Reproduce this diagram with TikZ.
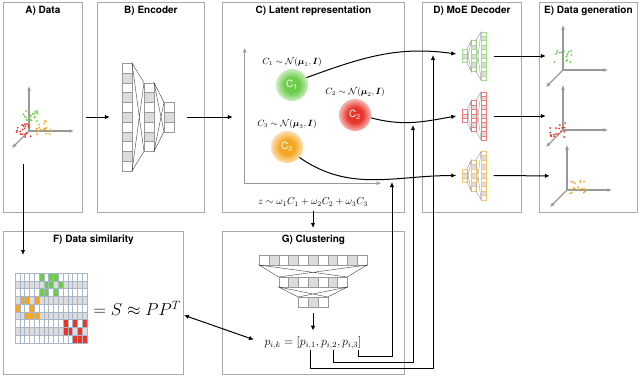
\documentclass[tikz,border=0pt]{standalone}
\usepackage{amsmath}
\usepackage{fontspec}
\setsansfont{TeX Gyre Heros}
\usetikzlibrary{arrows.meta,positioning}
\definecolor{cgreen}{HTML}{6DCC4A}
\definecolor{cred}{HTML}{E8352A}
\definecolor{corange}{HTML}{F5A623}
\definecolor{framegray}{HTML}{AAAAAA}
\definecolor{axisgray}{HTML}{999999}
\definecolor{cellgray}{HTML}{DCDCDC}
\definecolor{gridblue}{HTML}{A8B6CA}
\colorlet{ballc}{cgreen}
\pgfdeclareradialshading[ballc]{softball}{\pgfpointorigin}{%
  color(0bp)=(ballc); color(12bp)=(ballc); color(25bp)=(ballc!35); color(50bp)=(ballc!35)}

\newcommand{\mlpnet}[2]{%
  \foreach \lx/\nc in {-26/11,-4/7,16/3}{
    \foreach \i in {1,...,\nc}{
      \ifodd\i\def\cfill{white}\else\def\cfill{cellgray}\fi
      \draw[draw=#1, fill=\cfill, line width=0.4pt] (\lx,{(\i-1-\nc/2)*9.8}) rectangle ++(10,9.8);
    }
  }
  \foreach \xa/\ha/\xb/\hb in {-16/53.9/-4/34.3, 6/34.3/16/14.7}
    \draw[#2, line width=0.4pt] (\xa,-\ha) -- (\xb,-\hb) -- (\xa,\ha) -- (\xb,\hb) -- cycle;
}
\newcommand{\dotcloud}[6]{%
  \foreach \k in {1,...,#6}{\fill[#1] ({#2+#4*rand},{#3+#5*rand}) circle (1);}
}
\tikzset{triaxes/.pic={
  \node[inner sep=0pt, minimum size=62] (-area) at (14,-14) {};
  \draw[axis] (0,0) -- (0,-45);
  \draw[axis] (0,0) -- (45,0);
  \draw[axis] (0,0) -- (-17,17);
}}

\begin{document}
\begin{tikzpicture}[x=1pt, y=-1pt,
  panel/.style={draw=framegray, line width=0.8pt, inner sep=0pt, anchor=north west},
  ttl/.style={font=\sffamily\bfseries, inner sep=1pt},
  arr/.style={-{Latex[length=5pt,width=4.5pt]}, line width=1pt},
  darr/.style={{Latex[length=5pt,width=4.5pt]}-{Latex[length=5pt,width=4.5pt]}, line width=1pt},
  axis/.style={draw=axisgray, line width=1.1pt, -{Latex[length=4.5pt,width=4pt]}},
  blob/.style={circle, minimum size=32pt, inner sep=0pt, text=white, font=\sffamily},
  ball/.style={/utils/exec=\colorlet{ballc}{#1}, shading=softball},
  dist/.style={font=\small, inner sep=1pt},
  cellgrid/.style={draw=gridblue, line width=0.4pt},
  hole/.style={inner sep=0pt}
]
  \useasboundingbox (0,0) rectangle (640,376);
  \pgfmathsetseed{7}

  \node[panel, minimum width=79, minimum height=210] (A) at (3,2) {};
  \node[panel, minimum width=107, minimum height=210] (B) at (97,2) {};
  \node[panel, minimum width=182, minimum height=210] (C) at (222,2) {};
  \node[panel, minimum width=99, minimum height=210] (D) at (422,2) {};
  \node[panel, minimum width=98, minimum height=210] (E) at (539,2) {};
  \node[panel, minimum width=180, minimum height=143] (F) at (3,231) {};
  \node[panel, minimum width=182, minimum height=143] (G) at (222,231) {};
  \node[ttl, below=3pt of A.north] {A) Data};
  \node[ttl, below=3pt of B.north] {B) Encoder};
  \node[ttl, below=3pt of C.north] {C) Latent representation};
  \node[ttl, below=3pt of D.north] {D) MoE Decoder};
  \node[ttl, below=3pt of E.north] {E) Data generation};
  \node[ttl, below=3pt of F.north] {F) Data similarity};
  \node[ttl, below=3pt of G.north] {G) Clustering};

  % data and generated data
  \pic (pA) at (29,131) {triaxes};
  \dotcloud{cgreen}{31}{116}{8}{5}{20}
  \dotcloud{cred}{24}{130}{8}{7}{20}
  \dotcloud{corange}{43}{128}{8}{7}{20}
  \pic (pE1) at (563,70) {triaxes};
  \pic (pE2) at (563,130) {triaxes};
  \pic (pE3) at (567,190) {triaxes};
  \dotcloud{cgreen}{563}{56}{9}{6}{18}
  \dotcloud{cred}{558}{130}{9}{7}{18}
  \dotcloud{corange}{578}{187}{9}{7}{18}

  % networks
  \node[hole, minimum width=52, minimum height=108] (enc) at (148,117) {};
  \begin{scope}[shift={(enc.center)}] \mlpnet{axisgray}{black!75} \end{scope}
  \foreach \d/\y/\clr in {1/56/cgreen, 2/116/cred, 3/175.5/corange}{
    \node[hole, minimum width=25, minimum height=49] (dec\d) at (474,\y) {};
    \begin{scope}[shift={(dec\d.center)}, xscale=-0.45, yscale=0.45] \mlpnet{\clr!65}{axisgray} \end{scope}
  }
  \node[hole, minimum width=108, minimum height=53] (clnet) at (313,281) {};
  \begin{scope}[shift={(clnet.center)}, rotate=-90] \mlpnet{axisgray}{black!75} \end{scope}

  % latent space
  \node[hole, minimum width=136, minimum height=135] (lat) at (313,115.5) {};
  \draw[axis, {Latex[length=4.5pt,width=4pt]}-{Latex[length=4.5pt,width=4pt]}] (lat.north west) -- (lat.south west) -- (lat.south east);
  \node[blob, ball=cgreen] (c1) at (292,85) {C\textsubscript{1}};
  \node[blob, ball=cred] (c2) at (355,115) {C\textsubscript{2}};
  \node[blob, ball=corange] (c3) at (287,147) {C\textsubscript{3}};
  \node[dist, above=1pt of c1] {$C_1 \sim \mathcal{N}(\boldsymbol{\mu}_1, \boldsymbol{I})$};
  \node[dist, above=1pt of c2] {$C_2 \sim \mathcal{N}(\boldsymbol{\mu}_2, \boldsymbol{I})$};
  \node[dist, above=1pt of c3] {$C_3 \sim \mathcal{N}(\boldsymbol{\mu}_3, \boldsymbol{I})$};
  \node[inner sep=1pt] (zf) at (313,202) {$z \sim \omega_1 C_1 + \omega_2 C_2 + \omega_3 C_3$};

  % similarity matrix
  \node[hole, minimum width=72, minimum height=70, anchor=north west] (simmat) at (15,273) {};
  \begin{scope}[shift={(simmat.north west)}]
    \foreach \r in {0,...,8}
      \foreach \c in {0,...,14}{
        \ifodd\r\def\cfill{cellgray}\else\def\cfill{white}\fi
        \draw[cellgrid, fill=\cfill] (\c*4.8,\r*7.78) rectangle ++(4.8,7.78);
      }
    \foreach \c/\r/\clr in {5/0/cgreen, 7/0/cgreen, 8/0/cgreen, 6/1/cgreen, 7/1/cgreen, 9/1/cgreen,
        5/2/cgreen, 6/2/cgreen, 8/2/cgreen, 1/3/corange, 2/3/corange, 4/3/corange, 0/4/corange,
        3/4/corange, 2/5/corange, 3/5/corange, 4/5/corange, 10/6/cred, 12/6/cred, 14/6/cred,
        10/7/cred, 11/7/cred, 13/7/cred, 12/8/cred, 13/8/cred, 14/8/cred}
      \draw[cellgrid, fill=\clr] (\c*4.8,\r*7.78) rectangle ++(4.8,7.78);
  \end{scope}
  \node[font=\LARGE, inner sep=0pt, right=6pt of simmat] (simeq) {$= S \approx PP^T$};
  \node[font=\large, inner sep=1pt] (pf) at (313,343) {$p_{i,k} = [p_{i,1}, p_{i,2}, p_{i,3}]$};

  % connectors
  \coordinate (gate1) at (433,55);
  \coordinate (gate2) at (413,125);
  \coordinate (gate3) at (392,182);
  \draw[arr, shorten <=12pt, shorten >=12pt] (pA-area) -- (enc);
  \draw[arr, shorten <=13pt, shorten >=12pt] (enc.east) -- (enc.east -| lat.west);
  \draw[arr, shorten <=16pt, shorten >=18pt] ([xshift=-20pt]pA-area.south) -- ([xshift=-20pt]pA-area.south |- simmat.north);
  \draw[arr] (c1.27) to[out=20, in=172] ([xshift=-5pt, yshift=2pt]dec1.west);
  \draw[arr] (c2.-10) to[out=-15, in=190] ([xshift=-5pt]dec2.west);
  \draw[arr] (c3.-40) to[out=-35, in=180] ([xshift=-5pt]dec3.west);
  \draw[arr, shorten <=7pt] (dec1) -- (pE1-area);
  \draw[arr, shorten <=7pt] (dec2) -- (pE2-area);
  \draw[arr, shorten <=7pt] (dec3) -- (pE3-area);
  \draw[arr, shorten <=4pt, shorten >=3pt] (zf) -- (zf |- G.north);
  \draw[arr, shorten <=5pt, shorten >=5pt] (clnet) -- (pf);
  \draw[darr, shorten <=3pt, shorten >=10pt] ([yshift=-6pt]simeq.east) -- (pf.west);
  \draw[arr] ([xshift=-3pt]pf.south) -- ++(0,18) -| (gate1);
  \draw[arr] ([xshift=20pt]pf.south) -- ++(0,12) -| (gate2);
  \draw[arr] ([xshift=45pt]pf.south) -- ++(0,6) -| (gate3);
\end{tikzpicture}
\end{document}
